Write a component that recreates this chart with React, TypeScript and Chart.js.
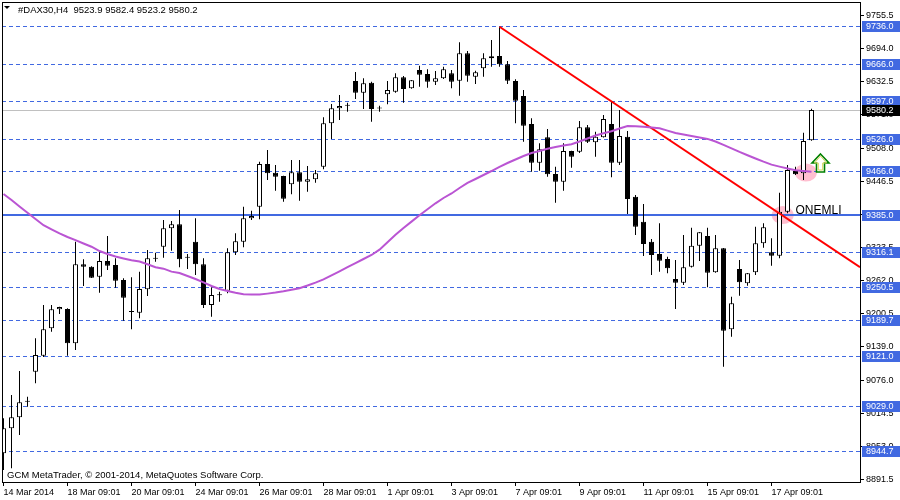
import React, { useEffect, useRef } from "react";
import { Chart, registerables } from "chart.js";

Chart.register(...registerables);

// ---------- data ----------
const dateLabels = [
  "14 Mar 2014", "18 Mar 09:01", "20 Mar 09:01", "24 Mar 09:01", "26 Mar 09:01",
  "28 Mar 09:01", "1 Apr 09:01", "3 Apr 09:01", "7 Apr 09:01", "9 Apr 09:01",
  "11 Apr 09:01", "15 Apr 09:01", "17 Apr 09:01",
];
const barsPerLabel = 8;

const opens = [
  8940.5, 8987.1, 9007.6, 9036.5, 9092.6, 9122.4, 9173.5, 9208.9, 9209.4, 9145.5,
  9292.7, 9288.3, 9269.6, 9298.9, 9291.4, 9263.5, 9204.0, 9202.6, 9246.2, 9303.9,
  9325.5, 9359.8, 9367.3, 9305.5, 9334.9, 9292.7, 9216.9, 9235.0, 9243.5, 9315.1,
  9334.9, 9378.5, 9400.1, 9479.7, 9463.4, 9457.3, 9441.8, 9464.2, 9446.7, 9451.2,
  9474.6, 9555.5, 9583.5, 9588.8, 9634.3, 9612.5, 9631.2, 9583.0, 9609.6, 9614.4,
  9641.2, 9620.7, 9654.8, 9647.4, 9633.0, 9639.4, 9648.7, 9634.9, 9686.0, 9642.4,
  9658.0, 9676.7, 9680.9, 9665.5, 9634.3, 9606.4, 9554.2, 9482.1, 9529.4, 9461.0,
  9446.7, 9503.9, 9502.6, 9548.1, 9520.1, 9529.4, 9554.2, 9482.1, 9530.5, 9418.7,
  9372.1, 9334.9, 9311.9, 9302.6, 9265.4, 9258.5, 9288.3, 9327.4, 9345.5, 9277.8,
  9322.6, 9171.6, 9284.0, 9257.3, 9277.8, 9331.9, 9315.1, 9308.8, 9390.8, 9466.6,
  9462.3, 9523.9,
];
const highs = [
  9005.7, 9049.2, 9093.9, 9046.0, 9154.8, 9216.9, 9216.9, 9213.7, 9210.8, 9334.9,
  9302.1, 9289.0, 9316.2, 9345.5, 9303.9, 9266.7, 9268.5, 9279.0, 9319.4, 9314.4,
  9375.3, 9373.4, 9393.9, 9311.9, 9378.5, 9303.9, 9249.9, 9241.7, 9322.6, 9350.5,
  9400.1, 9392.6, 9484.0, 9505.8, 9477.8, 9458.0, 9487.1, 9487.1, 9475.9, 9468.5,
  9566.7, 9591.5, 9608.3, 9593.9, 9651.1, 9639.4, 9633.0, 9588.3, 9634.3, 9648.7,
  9643.7, 9636.0, 9662.9, 9656.2, 9653.0, 9661.0, 9654.8, 9706.5, 9690.3, 9653.5,
  9686.0, 9710.8, 9735.5, 9671.6, 9637.5, 9617.6, 9564.8, 9518.2, 9544.9, 9474.6,
  9518.2, 9504.5, 9559.8, 9552.3, 9539.9, 9571.0, 9595.8, 9580.3, 9541.2, 9421.9,
  9405.1, 9339.9, 9369.2, 9306.9, 9300.8, 9347.4, 9361.0, 9353.0, 9361.0, 9347.4,
  9323.0, 9232.4, 9300.8, 9276.5, 9362.8, 9369.2, 9341.2, 9426.2, 9477.8, 9474.6,
  9538.0, 9582.4,
];
const lows = [
  8909.4, 8912.6, 8974.6, 9027.4, 9071.0, 9120.0, 9167.1, 9200.1, 9122.4, 9133.0,
  9252.3, 9267.0, 9239.8, 9282.1, 9249.1, 9187.6, 9171.6, 9192.1, 9233.7, 9297.6,
  9305.0, 9318.1, 9287.2, 9284.0, 9272.8, 9211.3, 9195.1, 9223.1, 9238.7, 9310.1,
  9324.4, 9375.3, 9376.6, 9449.9, 9429.9, 9409.4, 9423.2, 9411.3, 9428.1, 9444.8,
  9469.8, 9526.3, 9561.7, 9577.1, 9600.8, 9582.2, 9558.5, 9577.1, 9590.9, 9612.5,
  9593.9, 9620.0, 9623.7, 9621.9, 9626.9, 9638.1, 9620.7, 9607.0, 9633.0, 9628.8,
  9642.4, 9661.0, 9661.0, 9628.8, 9555.5, 9521.2, 9465.3, 9467.2, 9456.0, 9407.5,
  9429.9, 9472.8, 9500.0, 9518.8, 9493.3, 9529.0, 9454.9, 9477.8, 9386.5, 9347.4,
  9308.2, 9272.8, 9279.0, 9276.0, 9209.4, 9254.2, 9287.0, 9298.9, 9249.9, 9277.0,
  9101.9, 9157.8, 9234.2, 9252.9, 9272.8, 9323.7, 9290.1, 9303.9, 9387.8, 9459.2,
  9449.9, 9523.2,
];
const closes = [
  8987.1, 9007.6, 9035.6, 9036.7, 9123.7, 9171.6, 9208.9, 9213.0, 9145.5, 9292.7,
  9288.3, 9267.8, 9298.9, 9290.1, 9262.2, 9230.5, 9204.4, 9246.7, 9303.9, 9303.2,
  9359.8, 9367.3, 9302.1, 9305.0, 9292.7, 9216.9, 9235.5, 9235.5, 9315.1, 9335.6,
  9378.5, 9382.8, 9479.7, 9462.3, 9456.0, 9415.0, 9464.2, 9446.7, 9451.2, 9462.3,
  9555.5, 9583.5, 9587.8, 9588.3, 9612.5, 9630.1, 9582.2, 9583.5, 9617.6, 9641.2,
  9619.4, 9635.7, 9646.1, 9633.0, 9639.4, 9656.2, 9633.0, 9686.0, 9644.2, 9650.6,
  9676.7, 9680.4, 9665.5, 9634.9, 9597.6, 9551.0, 9482.1, 9507.1, 9460.5, 9446.7,
  9503.9, 9493.3, 9548.1, 9521.2, 9530.5, 9563.5, 9482.1, 9531.9, 9414.4, 9362.8,
  9330.6, 9310.1, 9299.5, 9285.3, 9258.5, 9287.2, 9327.4, 9352.4, 9277.1, 9322.6,
  9169.0, 9220.1, 9259.2, 9276.0, 9331.9, 9361.7, 9308.8, 9390.8, 9468.5, 9460.5,
  9522.5, 9580.2,
];
const maValues = [
  9423.8, 9412.6, 9400.5, 9388.7, 9377.2, 9365.6, 9357.8, 9350.3, 9343.6, 9337.7,
  9331.5, 9325.5, 9317.5, 9311.9, 9307.3, 9303.6, 9300.2, 9297.8, 9292.9, 9287.2,
  9284.6, 9279.1, 9276.5, 9270.9, 9265.4, 9259.2, 9252.3, 9246.7, 9243.0, 9239.6,
  9236.8, 9236.5, 9236.5, 9238.1, 9240.0, 9242.4, 9245.4, 9248.2, 9253.2, 9258.6,
  9264.6, 9272.2, 9279.7, 9287.3, 9295.0, 9302.6, 9310.1, 9320.1, 9333.9, 9347.7,
  9360.4, 9372.3, 9384.1, 9395.4, 9406.4, 9416.3, 9424.7, 9434.9, 9444.3, 9451.7,
  9459.2, 9466.6, 9474.5, 9481.5, 9488.1, 9494.6, 9500.2, 9503.9, 9508.0, 9511.4,
  9514.0, 9516.4, 9521.6, 9527.2, 9532.8, 9536.9, 9540.8, 9545.8, 9550.5, 9549.9,
  9549.0, 9547.9, 9546.2, 9541.9, 9537.4, 9534.8, 9532.0, 9529.2, 9526.4, 9521.6,
  9515.4, 9508.9, 9502.2, 9495.9, 9489.9, 9484.0, 9478.5, 9474.8, 9471.3, 9468.1,
  9466.8, 9465.3,
];

const yTickValues = [
  9755.5, 9694.0, 9632.5, 9571.0, 9508.0, 9446.5, 9385.0, 9323.5,
  9262.0, 9200.5, 9139.0, 9076.0, 9014.5, 8953.0, 8891.5,
];
const dashedLevels = [9736.0, 9666.0, 9597.0, 9526.0, 9466.0, 9316.1, 9250.5, 9189.7, 9121.0, 9029.0, 8944.7];
const keyLevel = 9385.0;
const keyLevelText = "ONEMLI";
const keyLevelTextBar = 99.0;
const bidPrice = 9580.2;
const trendBars = [62, 107.06];
const trendPrices = [9735.5, 9287.2];
const highlightBars = [97.4, 100.3];
const highlightPrices = [9384.6, 9463.8];
const arrowBar = 102;
const arrowPrice = 9464.5;
const titleText = "#DAX30,H4  9523.9 9582.4 9523.2 9580.2";
const footerText = "GCM MetaTrader, \u00A9 2001-2014, MetaQuotes Software Corp.";

const xMin = -0.1875;
const xMax = 107.0625;
const yMin = 8887.04;
const yMax = 9781.57;

// ---------- styles ----------
const BLUE = "rgb(65,105,225)";
const FONT = "'Liberation Sans', Arial, sans-serif";

const overlayPlugin = {
  id: "mtOverlay",
  beforeDatasetsDraw(chart: any) {
    const { ctx, chartArea: a } = chart;
    const x = chart.scales.x;
    const y = chart.scales.y;
    ctx.save();
    ctx.beginPath();
    ctx.rect(a.left, a.top, a.right - a.left, a.bottom - a.top);
    ctx.clip();
    // pink highlights
    ctx.fillStyle = "rgba(255,170,192,0.75)";
    highlightBars.forEach((b, i) => {
      ctx.beginPath();
      ctx.ellipse(x.getPixelForValue(b), y.getPixelForValue(highlightPrices[i]), 11, 9, 0, 0, Math.PI * 2);
      ctx.fill();
    });
    // bid line
    ctx.lineWidth = 1;
    ctx.strokeStyle = "#c0c0c0";
    const by = Math.round(y.getPixelForValue(bidPrice)) + 0.5;
    ctx.beginPath();
    ctx.moveTo(a.left, by);
    ctx.lineTo(a.right, by);
    ctx.stroke();
    // dashed levels
    ctx.strokeStyle = BLUE;
    ctx.setLineDash([4, 3]);
    dashedLevels.forEach((v) => {
      const py = Math.round(y.getPixelForValue(v)) + 0.5;
      ctx.beginPath();
      ctx.moveTo(a.left, py);
      ctx.lineTo(a.right, py);
      ctx.stroke();
    });
    ctx.setLineDash([]);
    // key level
    ctx.lineWidth = 2;
    const ky = Math.round(y.getPixelForValue(keyLevel));
    ctx.beginPath();
    ctx.moveTo(a.left, ky);
    ctx.lineTo(a.right, ky);
    ctx.stroke();
    ctx.restore();
  },
  afterDraw(chart: any) {
    const { ctx, chartArea: a } = chart;
    const x = chart.scales.x;
    const y = chart.scales.y;
    ctx.save();
    // frame
    ctx.strokeStyle = "#000";
    ctx.lineWidth = 1;
    ctx.strokeRect(a.left + 0.5, a.top + 0.5, a.right - a.left, a.bottom - a.top);

    // key level text
    ctx.fillStyle = "#000";
    ctx.font = `12px ${FONT}`;
    ctx.textAlign = "left";
    ctx.textBaseline = "alphabetic";
    ctx.fillText(keyLevelText, x.getPixelForValue(keyLevelTextBar), Math.round(y.getPixelForValue(keyLevel)) - 1);

    // arrow
    const cx = Math.round(x.getPixelForValue(arrowBar)) + 0.5;
    const bt = Math.round(y.getPixelForValue(arrowPrice));
    const drawArrow = (h: number, hw: number, sw: number, hh: number, inset: number) => {
      ctx.beginPath();
      ctx.moveTo(cx, bt - h + inset);
      ctx.lineTo(cx + hw, bt - h + hh);
      ctx.lineTo(cx + sw, bt - h + hh);
      ctx.lineTo(cx + sw, bt - inset);
      ctx.lineTo(cx - sw, bt - inset);
      ctx.lineTo(cx - sw, bt - h + hh);
      ctx.lineTo(cx - hw, bt - h + hh);
      ctx.closePath();
    };
    drawArrow(18, 8.5, 4, 9, 0);
    ctx.fillStyle = "#fff";
    ctx.fill();
    ctx.strokeStyle = "#008000";
    ctx.lineWidth = 1.6;
    ctx.stroke();
    drawArrow(18, 6, 2.2, 9, 2);
    ctx.strokeStyle = "rgb(215,215,90)";
    ctx.lineWidth = 1;
    ctx.stroke();

    // price boxes on the axis
    ctx.font = `9px ${FONT}`;
    ctx.textBaseline = "middle";
    const box = (v: number, bg: string) => {
      const py = Math.round(y.getPixelForValue(v));
      ctx.fillStyle = bg;
      ctx.fillRect(a.right + 2, py - 5, chart.width - a.right - 2, 11);
      ctx.fillStyle = "#fff";
      ctx.fillText(v.toFixed(1), a.right + 6, py + 0.5);
    };
    [...dashedLevels, keyLevel].forEach((v) => box(v, BLUE));
    box(bidPrice, "#000");

    // title
    ctx.fillStyle = "#000";
    ctx.beginPath();
    ctx.moveTo(4, 6);
    ctx.lineTo(10, 6);
    ctx.lineTo(7, 9);
    ctx.closePath();
    ctx.fill();
    ctx.font = `9.5px ${FONT}`;
    ctx.textBaseline = "middle";
    ctx.fillText(titleText, 18, 10);
    // footer
    ctx.fillText(footerText, 7, 475);
    ctx.restore();
  },
};

export default function App() {
  const ref = useRef<HTMLCanvasElement | null>(null);
  useEffect(() => {
    if (!ref.current) return;
    const idx = opens.map((_, i) => i);
    const chart = new Chart(ref.current, {
      type: "bar",
      data: {
        datasets: [
          {
            type: "line",
            label: "MA",
            data: idx.map((i) => ({ x: i, y: maValues[i] })),
            borderColor: "rgb(186,85,211)",
            borderWidth: 2,
            pointRadius: 0,
            tension: 0,
            order: 0,
          } as any,
          {
            type: "line",
            label: "Trend",
            data: trendBars.map((b, i) => ({ x: b, y: trendPrices[i] })),
            borderColor: "#ff0000",
            borderWidth: 2,
            pointRadius: 0,
            order: 1,
          } as any,
          {
            type: "bar",
            label: "Bodies",
            data: idx.map((i) => ({ x: i, y: [opens[i], closes[i]] })),
            backgroundColor: idx.map((i) => (closes[i] >= opens[i] ? "#ffffff" : "#000000")),
            borderColor: "#000",
            borderWidth: 1,
            borderSkipped: false,
            barThickness: 5,
            minBarLength: 1,
            grouped: false,
            inflateAmount: 0,
            order: 2,
          } as any,
          {
            type: "bar",
            label: "Wicks",
            data: idx.map((i) => ({ x: i, y: [lows[i], highs[i]] })),
            backgroundColor: "#000",
            borderWidth: 0,
            barThickness: 1,
            grouped: false,
            inflateAmount: 0,
            order: 3,
          } as any,
        ],
      },
      options: {
        animation: false,
        responsive: false,
        maintainAspectRatio: false,
        devicePixelRatio: 1,
        events: [],
        layout: { padding: { left: 2, top: 2, right: 0, bottom: 0 } },
        plugins: { legend: { display: false }, tooltip: { enabled: false } },
        scales: {
          x: {
            type: "linear",
            min: xMin,
            max: xMax,
            offset: false,
            grid: { offset: false, drawOnChartArea: false, drawTicks: true, tickLength: 4, color: "#000" },
            border: { display: false },
            afterBuildTicks: (scale: any) => {
              scale.ticks = dateLabels.map((_, i) => ({ value: i * barsPerLabel }));
            },
            afterFit: (scale: any) => {
              scale.height = 18;
              scale.paddingLeft = 0;
              scale.paddingRight = 0;
            },
            ticks: {
              autoSkip: false,
              maxRotation: 0,
              align: "start",
              padding: 1,
              color: "#000",
              font: { family: FONT, size: 9 },
              callback: (_v: any, i: number) => dateLabels[i] ?? "",
            },
          } as any,
          y: {
            type: "linear",
            position: "right",
            min: yMin,
            max: yMax,
            grid: { drawOnChartArea: false, drawTicks: true, tickLength: 4, color: "#000" },
            border: { display: false },
            afterBuildTicks: (scale: any) => {
              scale.ticks = yTickValues.map((v) => ({ value: v }));
            },
            afterFit: (scale: any) => {
              scale.width = 40;
              scale.paddingTop = 0;
              scale.paddingBottom = 0;
            },
            ticks: {
              autoSkip: false,
              padding: 2,
              color: "#000",
              font: { family: FONT, size: 9 },
              callback: (v: any) => Number(v).toFixed(1),
            },
          } as any,
        },
      },
      plugins: [overlayPlugin],
    } as any);
    return () => chart.destroy();
  }, []);
  return (
    <div style={{ position: "absolute", left: 0, top: 0, width: 900, height: 500, background: "#fff" }}>
      <canvas ref={ref} width={900} height={500} style={{ display: "block" }} />
    </div>
  );
}
